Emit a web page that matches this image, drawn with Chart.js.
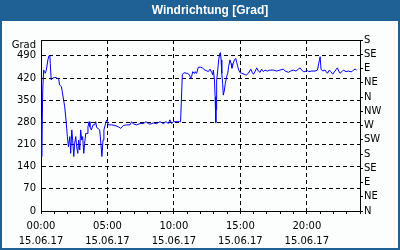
<!DOCTYPE html>
<html>
<head>
<meta charset="utf-8">
<script src="https://cdn.jsdelivr.net/npm/chart.js@4.4.1/dist/chart.umd.min.js"></script>
<style>
    body { margin: 0; background: #fff; }
    canvas { display: block; }
</style>
</head>
<body>
<canvas id="wind-chart" width="400" height="250"></canvas>
<script>
// minutes since 00:00 on 15.06.17
var minutes = [
    0, 3, 8, 12, 16, 19, 24, 31, 36, 40, 42, 46, 51, 62, 69, 80, 84, 92, 96, 102,
    107, 113, 119, 124, 130, 134, 139, 143, 148, 152, 157, 161, 166, 170, 175, 179, 184, 188, 193, 197,
    202, 208, 212, 217, 221, 227, 235, 242, 247, 251, 257, 265, 269, 275, 280, 284, 290, 296,
    304, 319, 334, 349, 360, 372, 387, 402, 409, 417, 432, 447, 462, 474, 484, 492, 507, 522, 537, 552,
    564, 575, 582, 590, 597, 605, 624, 630, 638,
    643, 646, 655, 661, 670, 676, 680, 685, 691, 695, 703, 710, 721, 730, 740, 748, 755, 763, 771, 775,
    778, 783, 786, 789, 790, 793, 798, 802, 807, 810, 813, 816, 820, 823, 828, 832, 838, 843, 847, 853,
    858, 862, 868, 873, 879, 884, 888, 893, 898,
    906, 917, 926, 936, 947, 953, 959, 966, 974, 981, 989, 996, 1004, 1011, 1022, 1034, 1049, 1064, 1079, 1094,
    1102, 1117, 1127, 1139, 1151, 1162, 1169, 1177, 1184, 1192, 1200, 1207, 1222, 1237, 1248, 1254, 1260, 1264, 1272, 1282,
    1293, 1302, 1308, 1317, 1327, 1338, 1344, 1350, 1358, 1365, 1377, 1388, 1395, 1403, 1410, 1418, 1425
];

// wind direction in degrees (unwrapped, so values above 360 occur)
var windDir = [
    290, 172, 385, 445, 440, 435, 445, 477, 490, 490, 466, 414, 419, 422, 421, 416, 398, 393, 377, 350,
    329, 287, 235, 203, 235, 182, 256, 224, 172, 214, 235, 203, 182, 224, 193, 256, 224, 235, 182, 214,
    245, 245, 266, 282, 266, 256, 272, 272, 282, 264, 261, 256, 224, 172, 224, 256, 272, 287,
    272, 272, 270, 266, 261, 270, 272, 272, 282, 275, 272, 276, 276, 282, 276, 274, 278, 276, 282, 276,
    282, 276, 288, 276, 282, 282, 282, 282, 430,
    435, 437, 435, 435, 430, 419, 425, 440, 435, 440, 435, 454, 454, 451, 445, 443, 440, 448, 437, 430,
    445, 414, 361, 279, 320, 414, 445, 477, 498, 500, 477, 435, 403, 366, 382, 403, 424, 435, 456, 477,
    466, 451, 466, 477, 482, 468, 456, 445, 437,
    435, 432, 429, 435, 448, 438, 432, 440, 452, 442, 438, 448, 440, 445, 442, 445, 445, 442, 445, 448,
    442, 438, 442, 445, 442, 448, 452, 445, 440, 440, 445, 440, 442, 442, 445, 467, 487, 448, 442, 445,
    435, 445, 440, 432, 442, 452, 442, 435, 440, 445, 440, 442, 440, 440, 445, 448, 445
];

var timeLabels = ['00:00', '05:00', '10:00', '15:00', '20:00'];
var dateLabel = '15.06.17';
var compassLabels = ['N', 'NE', 'E', 'SE', 'S', 'SW', 'W', 'NW', 'N', 'NE', 'E', 'SE', 'S'];

var titleText = 'Windrichtung [Grad]';
var unitText = 'Grad';
var frameBlue = '#1f6194';
var tickFont = { family: 'DejaVu Sans', size: 10, lineHeight: 1.5 };

var points = minutes.map(function(m, i) {
    return { x: m, y: windDir[i] };
});

// background, title bar, outer border, top edge of the plot and the unit label
var framePlugin = {
    id: 'frame',
    beforeDraw: function(chart) {
        var ctx = chart.ctx;
        ctx.save();
        ctx.fillStyle = '#fcfdfd';
        ctx.fillRect(0, 0, chart.width, chart.height);
        ctx.fillStyle = frameBlue;
        ctx.fillRect(0, 0, chart.width, 21);
        ctx.strokeStyle = frameBlue;
        ctx.lineWidth = 2;
        ctx.strokeRect(1, 1, chart.width - 2, chart.height - 2);
        ctx.fillStyle = '#fff';
        ctx.font = 'bold 12px "Liberation Sans"';
        ctx.textAlign = 'center';
        ctx.textBaseline = 'middle';
        ctx.fillText(titleText, 210, 11);
        ctx.restore();
    },
    afterDraw: function(chart) {
        var ctx = chart.ctx;
        var area = chart.chartArea;
        ctx.save();
        ctx.strokeStyle = '#000';
        ctx.lineWidth = 1;
        ctx.beginPath();
        ctx.moveTo(area.left, area.top + 0.5);
        ctx.lineTo(area.right + 1, area.top + 0.5);
        ctx.stroke();
        ctx.fillStyle = '#000';
        ctx.font = '10px "DejaVu Sans"';
        ctx.textAlign = 'right';
        ctx.textBaseline = 'middle';
        ctx.fillText(unitText, 36, area.top + 5);
        ctx.restore();
    }
};

var chart = new Chart(document.getElementById('wind-chart'), {
    type: 'line',
    data: {
        datasets: [{
            label: titleText,
            data: points,
            borderColor: '#0000ff',
            borderWidth: 1,
            pointRadius: 0,
            tension: 0,
            fill: false
        }]
    },
    options: {
        responsive: false,
        animation: false,
        layout: {
            padding: { top: 40, left: 0, right: 0, bottom: 0 }
        },
        plugins: {
            legend: { display: false },
            title: { display: false },
            tooltip: { enabled: false }
        },
        scales: {
            x: {
                type: 'linear',
                min: 0,
                max: 1440,
                afterFit: function(scale) { scale.height = 39; },
                ticks: {
                    stepSize: 60,
                    autoSkip: false,
                    maxRotation: 0,
                    padding: 5,
                    color: '#000',
                    font: tickFont,
                    callback: function(value) {
                        if (value % 300 === 0 && value < 1440) {
                            return [timeLabels[value / 300], dateLabel];
                        }
                        return '';
                    }
                },
                grid: {
                    color: function(context) {
                        var v = context.tick ? context.tick.value : 0;
                        return (v % 300 === 0 && v > 0 && v < 1440) ? '#000' : 'rgba(0,0,0,0)';
                    },
                    tickColor: '#000',
                    tickLength: 3,
                    tickBorderDash: [],
                    lineWidth: 1
                },
                border: {
                    color: '#000',
                    dash: [4, 3]
                }
            },
            y: {
                position: 'left',
                min: 0,
                max: 540,
                afterFit: function(scale) { scale.width = 41; },
                ticks: {
                    stepSize: 70,
                    includeBounds: false,
                    padding: 5,
                    color: '#000',
                    font: tickFont
                },
                grid: {
                    drawTicks: false,
                    color: function(context) {
                        var v = context.tick ? context.tick.value : 0;
                        return v > 0 ? '#000' : 'rgba(0,0,0,0)';
                    },
                    lineWidth: 1
                },
                border: {
                    color: '#000',
                    dash: [4, 3]
                }
            },
            compass: {
                position: 'right',
                min: 0,
                max: 540,
                afterFit: function(scale) { scale.width = 40; },
                ticks: {
                    stepSize: 45,
                    autoSkip: false,
                    padding: 1,
                    color: '#000',
                    font: tickFont,
                    callback: function(value) {
                        return compassLabels[Math.round(value / 45)];
                    }
                },
                grid: {
                    drawOnChartArea: false,
                    tickColor: '#000',
                    tickLength: 3
                },
                border: {
                    color: '#000'
                }
            }
        }
    },
    plugins: [framePlugin]
});
</script>
</body>
</html>
